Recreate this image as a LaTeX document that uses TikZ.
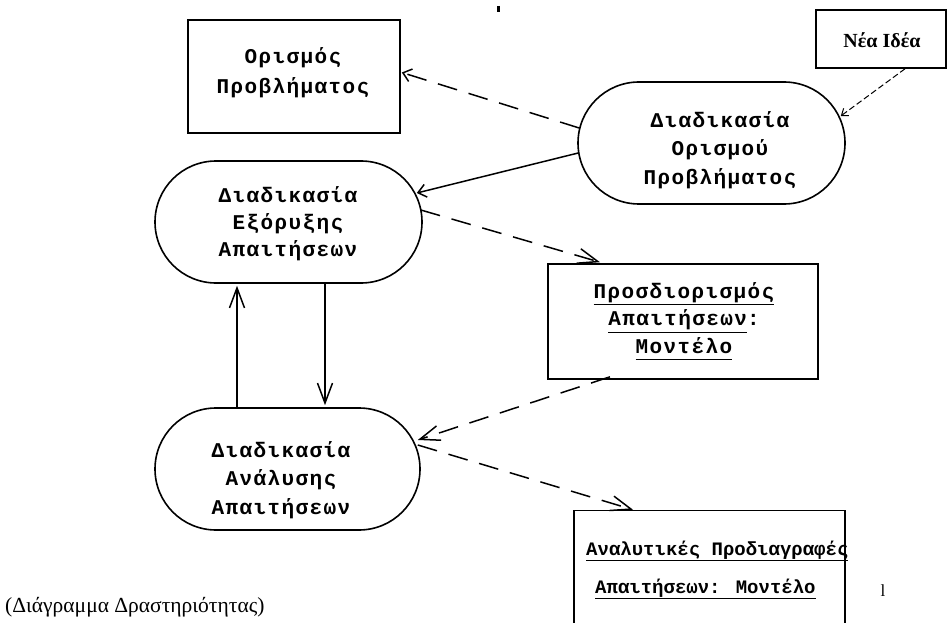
\documentclass[tikz,border=0pt]{standalone}
\usepackage{fontspec}
\setmainfont{Liberation Serif}
\newfontfamily\gmono[LetterSpace=6.7]{Liberation Mono}
\newfontfamily\gmonotight{Liberation Mono}
\usetikzlibrary{arrows.meta,shapes.misc,calc}
\newcommand\ulx[1]{\underline{#1\rule[-4pt]{0pt}{4pt}}}
\tikzset{
  box/.style={draw, line width=1.6pt, rectangle, inner sep=0pt},
  proc/.style={draw, line width=1.6pt, rounded rectangle, inner sep=0pt, minimum height=122pt},
  lbl/.style={font=\gmono\bfseries\fontsize{21}{28.5}\selectfont, align=center, inner sep=0pt},
  lbltight/.style={font=\gmonotight\bfseries\fontsize{19}{24}\selectfont, inner sep=0pt, anchor=west},
  conn/.style={line width=1.5pt},
  dsh/.style={conn, dash pattern=on 20pt off 12pt},
  bighead/.style={-{Straight Barb[length=20pt,width=15pt,line width=1.5pt]}},
  smallhead/.style={-{Straight Barb[length=8pt,width=13pt,line width=1.5pt]}},
}
\begin{document}
\begin{tikzpicture}[x=1pt,y=-1pt]
\useasboundingbox (0,0) rectangle (948,623);
\clip (0,0) rectangle (948,623);
\fill[white] (0,0) rectangle (948,623);

% shapes
\node[box, minimum width=212pt, minimum height=113pt] (orismos) at (294,76.5) {};
\node[box, minimum width=130pt, minimum height=58pt] (nea) at (881,39) {};
\node[proc, minimum width=267pt] (orismou) at (711.5,143) {};
\node[proc, minimum width=267pt] (exoryxis) at (288.5,222) {};
\node[box, minimum width=270pt, minimum height=115pt] (prosd) at (683,321.5) {};
\node[proc, minimum width=265pt] (analysis) at (287.5,469) {};
\node[box, minimum width=271pt, minimum height=119pt] (analytikes) at (709.5,570) {};

% texts
\node[lbl, font=\gmono\bfseries\fontsize{21}{30}\selectfont] (orismos-t) at (293,73) {Ορισμός\\Προβλήματος};
\node[lbl] (orismou-t) at (720,150) {Διαδικασία\\Ορισμού\\Προβλήματος};
\node[lbl, font=\gmono\bfseries\fontsize{21}{27}\selectfont] (exoryxis-t) at (288,224) {Διαδικασία\\Εξόρυξης\\Απαιτήσεων};
\node[lbl, font=\gmono\bfseries\fontsize{21}{27.5}\selectfont] (prosd-t) at (684,321) {\ulx{Προσδιορισμός}\\\ulx{Απαιτήσεων}:\\\ulx{Μοντέλο}};
\node[lbl] (analysis-t) at (281,480) {Διαδικασία\\Ανάλυσης\\Απαιτήσεων};
\node[lbltight] (analytikes-t1) at (586,551) {\ulx{Αναλυτικές Προδιαγραφές}};
\node[lbltight] (analytikes-t2) at (595,589) {\ulx{Απαιτήσεων: Μοντέλο}};
\node[font=\bfseries\fontsize{20}{22}\selectfont, inner sep=0pt] (nea-t) at (882,40) {Νέα Ιδέα};
\node[font=\fontsize{21.5}{24}\selectfont, inner sep=0pt, anchor=west] (caption) at (5,607) {(Διάγραμμα Δραστηριότητας)};
\node[font=\fontsize{17}{20}\selectfont, inner sep=0pt] (mark-l) at (883,591) {l};
\draw[line width=3pt] (498,6) coordinate (tick-a) -- (498,12) coordinate (tick-b);

% connectors
\draw[dsh, smallhead] ($(orismou.west)+(2,-15)$) -- ($(orismos.east)+(1,-4)$);
\draw[conn, smallhead] ($(orismou.west)+(1,10)$) -- ($(exoryxis.east)+(-6,-29)$);
\draw[line width=1pt, dash pattern=on 6pt off 3pt, -{Straight Barb[length=6pt,width=9pt,line width=1pt]}] ($(nea.south)+(24,0)$) -- ($(orismou.east)+(-5,-27)$);
\draw[dsh, bighead] ($(exoryxis.east)+(-2,-12)$) -- ($(prosd.north)+(-83,-1)$);
\draw[conn, bighead] ($(exoryxis.south)+(36.5,0)$) -- ($(analysis.north)+(37.5,-2)$);
\draw[conn, bighead] ($(analysis.north)+(-50.5,0)$) -- ($(exoryxis.south)+(-51.5,2)$);
\draw[dsh, bighead] ($(prosd.south)+(-73,-3)$) -- ($(analysis.east)+(-3,-29)$);
\draw[dsh, bighead] ($(analysis.east)+(-3,-24)$) -- ($(analytikes.north)+(-76.5,0)$);
\end{tikzpicture}
\end{document}
